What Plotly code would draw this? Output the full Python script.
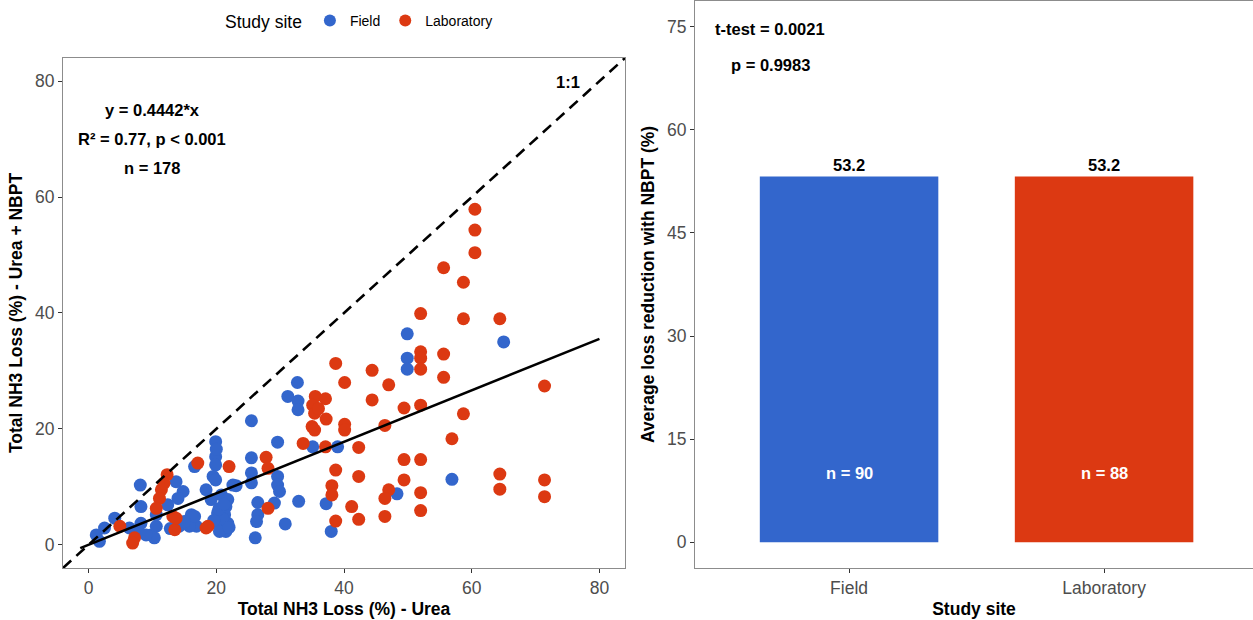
import plotly.graph_objects as go

# ---------------- data ----------------
field_x = [65.0, 56.9, 49.9, 49.9, 49.9, 48.3, 32.7, 31.2, 32.8, 32.8, 35.1, 39.0, 29.6, 25.5, 25.5,
           25.5, 29.6, 29.6, 29.9, 29.1, 26.5, 26.5, 26.3, 32.9, 37.2, 30.8, 38.0, 26.1, 19.9, 19.9,
           19.9, 25.5, 19.5, 19.9, 23.1, 18.4, 19.2, 20.8, 21.8, 21.5, 21.3, 21.8, 21.5, 20.2, 20.2,
           20.5, 16.1, 16.1, 16.9, 16.6, 8.1, 13.7, 14.8, 14.0, 8.2, 12.4, 14.2, 15.8, 16.6, 4.1,
           2.5, 1.2, 1.7, 6.4, 8.2, 7.7, 9.8, 10.6, 10.3, 10.6, 9.0, 20.0, 21.0, 22.0, 19.6, 20.4,
           21.2, 22.6, 15.0, 12.8]
field_y = [35.0, 11.3, 36.4, 32.2, 30.3, 8.8, 28.0, 25.6, 24.8, 23.3, 16.9, 16.9, 17.7, 21.4, 15.0,
           12.4, 11.8, 10.3, 9.2, 7.2, 7.3, 5.2, 4.0, 7.5, 7.1, 3.6, 2.3, 1.2, 17.8, 15.2,
           13.8, 10.7, 11.8, 11.2, 10.2, 9.5, 7.8, 8.6, 7.8, 6.6, 5.2, 3.7, 2.3, 5.5, 3.7,
           2.3, 5.2, 3.4, 3.2, 13.5, 10.3, 10.9, 9.2, 8.0, 6.6, 6.9, 3.2, 3.2, 4.9, 4.6,
           2.9, 1.7, 0.6, 2.9, 3.7, 2.3, 1.7, 3.2, 1.2, 5.2, 1.7, 16.5, 4.5, 3.0, 4.2, 6.2,
           7.0, 10.3, 4.0, 2.8]
lab_x = [60.5, 60.5, 60.5, 55.6, 58.7, 58.7, 64.4, 55.6, 55.6, 71.4, 58.7, 56.9, 64.4, 64.4, 71.4,
         71.4, 52.0, 52.0, 52.0, 52.0, 47.0, 49.4, 52.0, 46.4, 49.4, 52.0, 49.4, 47.0, 46.4, 52.0,
         46.4, 52.0, 38.7, 44.4, 40.1, 35.5, 37.1, 35.1, 35.4, 37.2, 35.0, 35.4, 40.1, 40.1, 44.4,
         33.6, 37.1, 42.3, 27.8, 28.1, 38.7, 42.3, 38.1, 38.1, 28.1, 41.2, 38.7, 42.3, 17.1, 22.0,
         18.7, 12.3, 11.4, 11.1, 10.6, 13.2, 13.5, 4.9, 7.2, 6.9, 13.7, 18.4, 36.0, 11.8]
lab_y = [57.9, 54.3, 50.4, 47.8, 45.3, 39.0, 39.0, 32.9, 28.9, 27.4, 22.6, 18.3, 12.2, 9.6, 11.2,
         8.3, 39.9, 33.3, 32.2, 30.3, 27.6, 23.6, 24.1, 20.6, 14.7, 14.7, 11.2, 9.5, 8.0, 9.0,
         4.9, 5.9, 31.3, 30.1, 28.0, 25.6, 25.2, 24.1, 22.7, 21.7, 20.4, 19.8, 20.8, 19.8, 25.0,
         17.5, 16.9, 16.8, 15.1, 13.2, 12.9, 11.8, 10.2, 8.6, 6.3, 6.6, 4.1, 4.4, 14.1, 13.5,
         3.2, 12.1, 9.5, 8.0, 6.3, 4.9, 2.6, 3.2, 1.2, 0.3, 4.6, 2.9, 23.5, 10.6]

slope = 0.4442
fit_x = [-1.3, 80]
one_to_one = [-4, 84]

sites = ["Field", "Laboratory"]
reduction = [53.2, 53.2]
n_obs = [90, 88]

blue = "#3366CC"
red = "#DC3912"
font_family = "Liberation Sans, Arial, sans-serif"
axis_line = "#8c8c8c"
tick_col = "#4D4D4D"

fig = go.Figure()

fig.add_trace(go.Scatter(x=field_x, y=field_y, mode="markers", name="Field",
                         marker=dict(color=blue, size=13), xaxis="x", yaxis="y"))
fig.add_trace(go.Scatter(x=lab_x, y=lab_y, mode="markers", name="Laboratory",
                         marker=dict(color=red, size=13), xaxis="x", yaxis="y"))
fig.add_trace(go.Scatter(x=one_to_one, y=one_to_one, mode="lines", showlegend=False,
                         line=dict(color="black", width=2.6, dash="11px,7px"), xaxis="x", yaxis="y"))
fig.add_trace(go.Scatter(x=fit_x, y=[slope * v for v in fit_x], mode="lines", showlegend=False,
                         line=dict(color="black", width=2.6), xaxis="x", yaxis="y"))

fig.add_trace(go.Bar(x=sites, y=reduction, marker=dict(color=[blue, red], line=dict(width=0)),
                     width=0.7, showlegend=False, xaxis="x2", yaxis="y2",
                     texttemplate="<b>%{y:.1f}</b>", textposition="outside",
                     textfont=dict(family=font_family, size=16.5, color="black"),
                     cliponaxis=False))

tickfont = dict(family=font_family, size=17.5, color=tick_col)
titlefont = dict(family=font_family, size=17.5, color="black")

common_axis = dict(showgrid=False, zeroline=False, showline=True, mirror=True,
                   linecolor=axis_line, linewidth=1, ticks="outside", ticklen=4,
                   tickcolor="#333333", tickfont=tickfont)

fig.update_layout(
    width=1253, height=620,
    margin=dict(l=0, r=0, t=0, b=0),
    paper_bgcolor="white", plot_bgcolor="white",
    font=dict(family=font_family),
    xaxis=dict(domain=[0.0503, 0.4988], range=[-4, 84], tickvals=[0, 20, 40, 60, 80],
               title=dict(text="<b>Total NH3 Loss (%) - Urea</b>", font=titlefont, standoff=5),
               anchor="y", **common_axis),
    yaxis=dict(domain=[0.0839, 0.9065], range=[-4, 84], tickvals=[0, 20, 40, 60, 80],
               title=dict(text="<b>Total NH3 Loss (%) - Urea + NBPT</b>", font=titlefont, standoff=7),
               anchor="x", **common_axis),
    xaxis2=dict(domain=[0.5547, 1.0], range=[-0.604, 1.584], type="category",
                title=dict(text="<b>Study site</b>", font=titlefont, standoff=5),
                anchor="y2", **common_axis),
    yaxis2=dict(domain=[0.0839, 0.9985], range=[-3.75, 78.75], tickvals=[0, 15, 30, 45, 60, 75],
                title=dict(text="<b>Average loss reduction with NBPT (%)</b>", font=titlefont, standoff=7),
                anchor="x2", **common_axis),
    legend=dict(orientation="h", x=0.178, y=0.992, xanchor="left", yanchor="top",
                title=dict(text="Study site", font=dict(family=font_family, size=17.5, color="black")),
                font=dict(family=font_family, size=14, color="black"),
                itemsizing="constant", bgcolor="rgba(0,0,0,0)"),
    bargap=0.3,
)

ann_font = dict(family=font_family, size=16.5, color="black")
annotations = [
    dict(x=10, y=75, xref="x", yref="y", text="<b>y = 0.4442*x</b>", showarrow=False, font=ann_font),
    dict(x=10, y=70, xref="x", yref="y", text="<b>R² = 0.77, p < 0.001</b>", showarrow=False, font=ann_font),
    dict(x=10, y=65, xref="x", yref="y", text="<b>n = 178</b>", showarrow=False, font=ann_font),
    dict(x=75, y=79.8, xref="x", yref="y", text="<b>1:1</b>", showarrow=False, font=ann_font),
    dict(x=-0.31, y=74.7, xref="x2", yref="y2", text="<b>t-test = 0.0021</b>", showarrow=False, font=ann_font),
    dict(x=-0.31, y=69.5, xref="x2", yref="y2", text="<b>p = 0.9983</b>", showarrow=False, font=ann_font),
]
for s, n in zip(sites, n_obs):
    annotations.append(dict(x=s, y=10, xref="x2", yref="y2", text=f"<b>n = {n}</b>", showarrow=False,
                            font=dict(family=font_family, size=16.5, color="white")))
fig.update_layout(annotations=annotations)

fig.write_html("out.html", config={"displayModeBar": False},
               post_script="document.body.style.margin='0px';document.body.style.overflow='hidden';")
